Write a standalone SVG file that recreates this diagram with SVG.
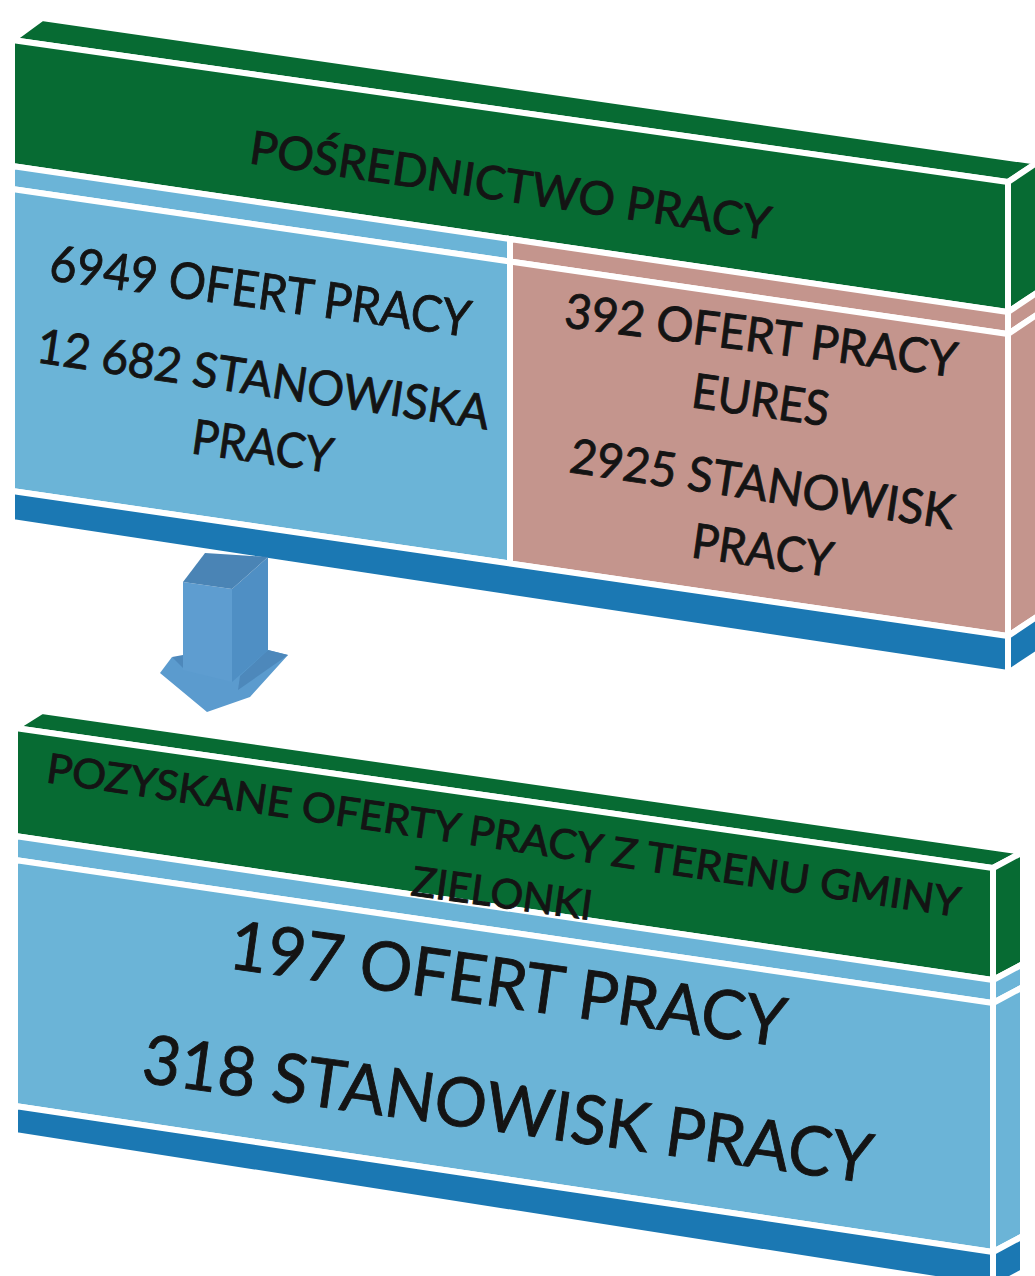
<svg xmlns="http://www.w3.org/2000/svg" width="1035" height="1276" viewBox="0 0 1035 1276">
  <style>
    .f { stroke:#ffffff; stroke-width:6; stroke-linejoin:miter; }
    .green { fill:#076b33; }
    .lblue { fill:#6bb4d7; }
    .pink { fill:#c4958d; }
    .dblue { fill:#1b78b3; }
    .t { font-family:Lato, "Open Sans", "Liberation Sans", sans-serif; fill:#141414; stroke:#141414; stroke-width:0.9; }
  </style>
  <rect width="1035" height="1276" fill="#ffffff"/>

  <g id="top-box">
    <polygon class="f green" points="12,40 42,18 1038,162 1008,182"/>
    <polygon class="f green" points="12,40 1008,182 1008,312 12,166"/>
    <polygon class="f lblue" points="12,166 510,239 510,261.5 12,189"/>
    <polygon class="f pink" points="510,239 1008,312 1008,334 510,261.5"/>
    <polygon class="f lblue" points="12,189 510,261.5 510,563.5 12,491"/>
    <polygon class="f pink" points="510,261.5 1008,334 1008,636 510,563.5"/>
    <polygon class="f dblue" points="12,491 1008,636 1008,673 12,522"/>
    <polygon class="f green" points="1008,182 1038,162 1038,292 1008,312"/>
    <polygon class="f pink" points="1008,312 1038,292 1038,314 1008,334"/>
    <polygon class="f pink" points="1008,334 1038,314 1038,616 1008,636"/>
    <polygon class="f dblue" points="1008,636 1038,616 1038,653 1008,673"/>
    <text class="t" x="248" y="163" font-size="46" textLength="526" lengthAdjust="spacingAndGlyphs" transform="rotate(8.4 248 163)">POŚREDNICTWO PRACY</text>
    <text class="t" x="48" y="280" font-size="50" textLength="424" lengthAdjust="spacingAndGlyphs" transform="rotate(7.7 48 280)">6949 OFERT PRACY</text>
    <text class="t" x="35" y="362" font-size="48" textLength="457" lengthAdjust="spacingAndGlyphs" transform="rotate(8.5 35 362)">12 682 STANOWISKA</text>
    <text class="t" x="190" y="453" font-size="48" textLength="142" lengthAdjust="spacingAndGlyphs" transform="rotate(8 190 453)">PRACY</text>
    <text class="t" x="563" y="327" font-size="48" textLength="395" lengthAdjust="spacingAndGlyphs" transform="rotate(7.3 563 327)">392 OFERT PRACY</text>
    <text class="t" x="690" y="407" font-size="48" textLength="138" lengthAdjust="spacingAndGlyphs" transform="rotate(8 690 407)">EURES</text>
    <text class="t" x="568" y="472" font-size="48" textLength="388" lengthAdjust="spacingAndGlyphs" transform="rotate(8.5 568 472)">2925 STANOWISK</text>
    <text class="t" x="690" y="557" font-size="48" textLength="142" lengthAdjust="spacingAndGlyphs" transform="rotate(8 690 557)">PRACY</text>
  </g>

  <g id="bottom-box">
    <polygon class="f green" points="15,728 42,711 1023,852 993,868"/>
    <polygon class="f green" points="15,728 993,868 993,980 15,836"/>
    <polygon class="f lblue" points="15,836 993,980 993,1003 15,860"/>
    <polygon class="f lblue" points="15,860 993,1003 993,1252 15,1106"/>
    <polygon class="f dblue" points="15,1106 993,1252 993,1288 15,1135"/>
    <polygon class="f green" points="993,868 1023,852 1023,964 993,980"/>
    <polygon class="f lblue" points="993,980 1023,964 1023,987 993,1003"/>
    <polygon class="f lblue" points="993,1003 1023,987 1023,1236 993,1252"/>
    <polygon class="f dblue" points="993,1252 1023,1236 1023,1272 993,1288"/>
    <text class="t" x="45" y="782" font-size="41" textLength="923" lengthAdjust="spacingAndGlyphs" transform="rotate(8.4 45 782)">POZYSKANE OFERTY PRACY Z TERENU GMINY</text>
    <text class="t" x="410" y="895" font-size="41" textLength="182" lengthAdjust="spacingAndGlyphs" transform="rotate(7.9 410 895)">ZIELONKI</text>
    <text class="t" x="227" y="968" font-size="68" textLength="561" lengthAdjust="spacingAndGlyphs" transform="rotate(8.1 227 968)">197 OFERT PRACY</text>
    <text class="t" x="140" y="1082" font-size="68" textLength="736" lengthAdjust="spacingAndGlyphs" transform="rotate(7.9 140 1082)">318 STANOWISK PRACY</text>
  </g>

  <g id="connectors">
    <g id="arrow">
      <polygon fill="#5b9bce" points="183,662 172,657 160,673 207,712 250,697 288,655 268,650"/>
      <polygon fill="#4d88bb" points="172,657 183,655 183,668"/>
      <polygon fill="#4d88bb" points="238,690 288,655 268,650 240,676"/>
      <polygon fill="#5e9dd0" points="183,582 232,589 232,682 183,670"/>
      <polygon fill="#4f8fc4" points="232,589 268,557 268,650 232,682"/>
      <polygon fill="#4a84b5" points="183,582 205,553 268,557 232,589"/>
    </g>
  </g>
</svg>
